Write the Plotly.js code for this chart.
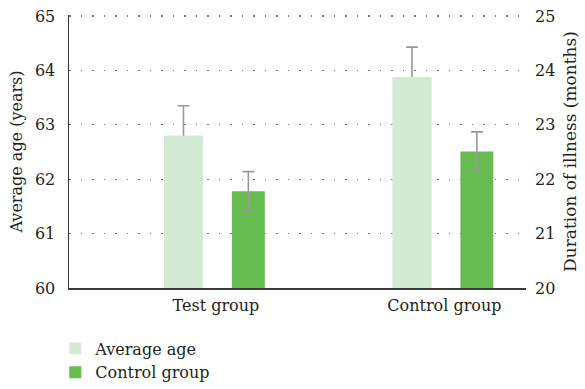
<!DOCTYPE html>
<html>
<head>
<meta charset="utf-8">
<script src="https://cdn.plot.ly/plotly-3.0.1.min.js"></script>
<style>
  html, body { margin: 0; padding: 0; background: #fff; }
  #chart { width: 585px; height: 389px; }
</style>
</head>
<body>
<div id="chart"></div>
<script>
// Group labels and measured values
const groups = ['Test group', 'Control group'];
const ageMean = [62.8, 63.88];          // average age (years), left axis
const ageErr = [0.55, 0.55];
const durationMean = [21.78, 22.51];    // duration of illness (months), right axis
const durationErr = [0.36, 0.36];
const seriesNames = ['Average age', 'Control group'];

const xPos = groups.map((_, i) => i);
const textColor = '#231f20';
const lightGreen = '#d3ead5';
const green = '#67bc4f';
const errColor = '#999999';
const serif = 'DejaVu Serif';
const txt = (size) => ({ family: serif, size: size, color: textColor });

const ageBars = {
  type: 'bar', name: seriesNames[0], x: xPos, y: ageMean,
  width: 0.17, offset: -0.227,
  marker: { color: lightGreen },
  error_y: { type: 'data', array: ageErr, visible: true, color: errColor, thickness: 1.6, width: 6 },
  xaxis: 'x', yaxis: 'y', hoverinfo: 'skip'
};
// same bars again, drawn over the lower half of the whiskers
const ageCover = {
  type: 'bar', x: xPos, y: ageMean, width: 0.17, offset: -0.227,
  marker: { color: lightGreen }, showlegend: false,
  xaxis: 'x', yaxis: 'y', hoverinfo: 'skip'
};
const durationBars = {
  type: 'bar', name: seriesNames[1], x: xPos, y: durationMean,
  width: 0.144, offset: 0.070,
  marker: { color: green },
  error_y: { type: 'data', array: durationErr, visible: true, color: errColor, thickness: 1.6, width: 6 },
  xaxis: 'x', yaxis: 'y2', hoverinfo: 'skip'
};

const layout = {
  width: 585, height: 389,
  margin: { l: 69, r: 59, t: 15, b: 101 },
  paper_bgcolor: '#fff', plot_bgcolor: '#fff',
  font: txt(16),
  barmode: 'overlay',
  showlegend: true,
  legend: {
    orientation: 'v', x: -0.03, xanchor: 'left', yref: 'container', y: 0.148, yanchor: 'top',
    font: txt(16), bgcolor: 'rgba(0,0,0,0)', traceorder: 'normal'
  },
  xaxis: {
    range: [-0.643, 1.357], tickmode: 'array', tickvals: xPos, ticktext: groups,
    showgrid: false, zeroline: false, showline: true, linecolor: '#3a3a3a', linewidth: 1.5,
    ticks: '', ticklabelstandoff: 2, tickfont: txt(16)
  },
  yaxis: {
    range: [60, 65.02], tickvals: [60, 61, 62, 63, 64, 65],
    showline: true, linecolor: '#3a3a3a', linewidth: 1.5, ticks: '', zeroline: false,
    showgrid: true, gridcolor: '#777777', gridwidth: 1.2, griddash: '1.5px,10px',
    ticklabelstandoff: 9, tickfont: txt(16),
    title: { text: 'Average age (years)', font: txt(16), standoff: 8 }
  },
  yaxis2: {
    range: [20, 25.02], tickvals: [20, 21, 22, 23, 24, 25], overlaying: 'y', side: 'right',
    showline: false, ticks: '', zeroline: false, showgrid: false,
    ticklabelstandoff: 8, tickfont: txt(16),
    title: { text: 'Duration of illness (months)', font: txt(17), standoff: 9 }
  }
};

Plotly.newPlot('chart', [ageBars, ageCover, durationBars], layout, { displayModeBar: false, staticPlot: true });
</script>
</body>
</html>
